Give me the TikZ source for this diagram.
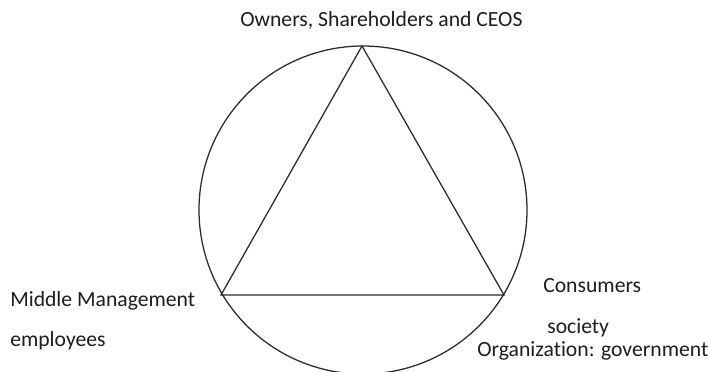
\documentclass[tikz,border=0pt]{standalone}
\usepackage{fontspec}
\setmainfont[Ligatures=NoCommon]{Carlito}
\usepackage{xcolor}
\definecolor{inkGray}{HTML}{2B2B2B}
\definecolor{darkText}{HTML}{1E1E1E}
\usepackage{tikz}
\usetikzlibrary{
    positioning,
    calc
}
\tikzset{
    % Plain text labels round the figure
    stake label/.style={
        font=\fontsize{15.4}{18}\selectfont,
        text=darkText,
        inner sep=0pt,
        anchor=base west,
    },
    % Outline of circle and triangle
    outline/.style={
        draw=inkGray,
        line width=0.9pt,
        line join=miter,
    },
}

\begin{document}
\begin{tikzpicture}[x=0.025cm, y=-0.025cm]
    \useasboundingbox (0,0) rectangle (709,372);
    \fill[white] (0,0) rectangle (709,372);

    % corners of the triangle
    \coordinate (apex) at (362,46);
    \coordinate (lcorner) at (221,295);
    \coordinate (rcorner) at (504,295);
    \coordinate (hub) at (363,210);

    \begin{scope}
        \clip (0,0) rectangle (709,372);
        \draw [outline] (hub) circle [radius=164];
    \end{scope}
    \draw [outline] (apex) -- (lcorner) -- (rcorner) -- cycle;

    % labels
    \node (owners) [stake label] at (240,27) {Owners, Shareholders and CEOS};
    \node (middle) [stake label] at (10,307) {Middle Management};
    \node (employees) [stake label] at (10,347) {employees};
    \node (consumers) [stake label] at (543,293) {Consumers};
    \node (society) [stake label] at (547,333) {society};
    \node (government) [stake label] at (477,357) {Organization: government};
\end{tikzpicture}
\end{document}
